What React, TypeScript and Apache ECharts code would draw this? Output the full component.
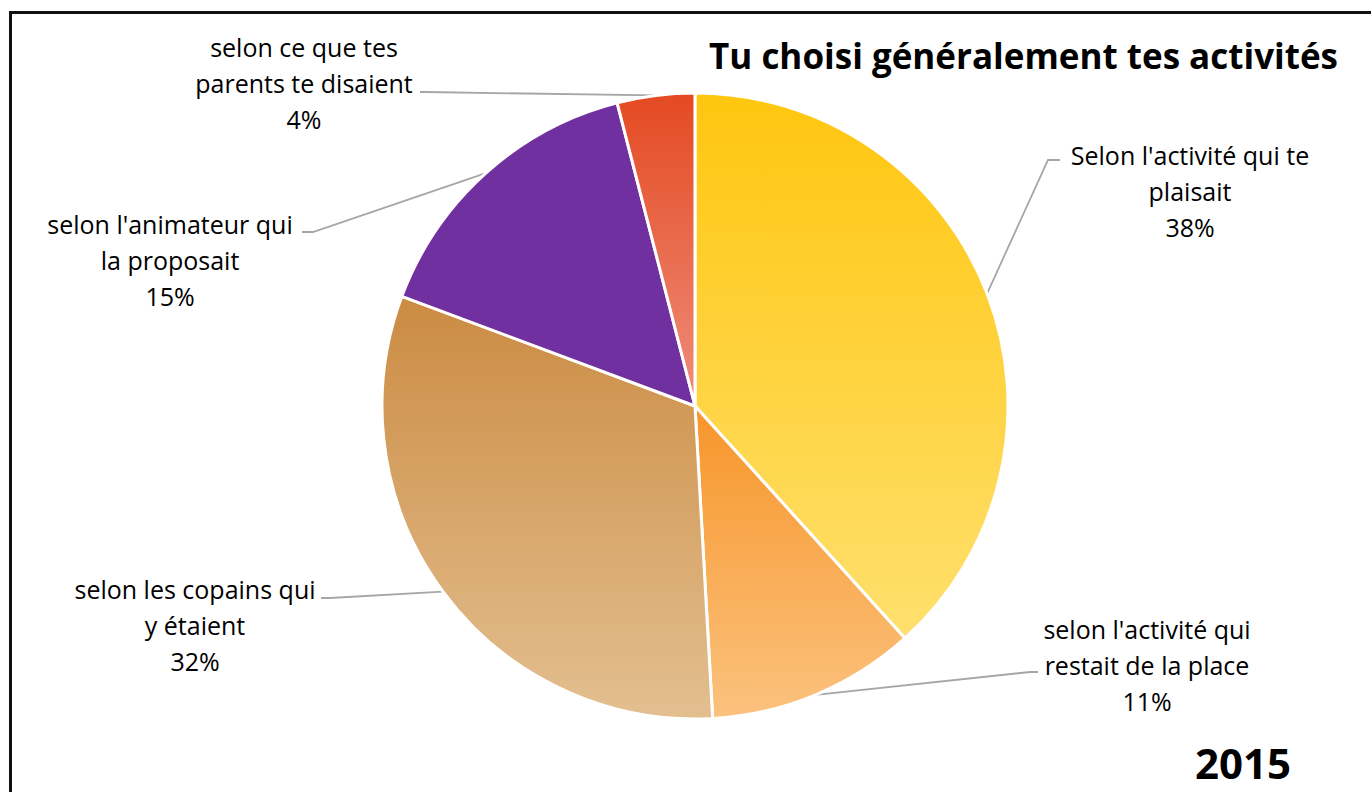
import React, { useEffect, useRef } from "react";
import * as echarts from "echarts";

const categories = [
  "Selon l'activité qui te\nplaisait",
  "selon l'activité qui\nrestait de la place",
  "selon les copains qui\ny étaient",
  "selon l'animateur qui\nla proposait",
  "selon ce que tes\nparents te disaient",
];
// shares (labels show them rounded)
const values = [38.3, 10.8, 31.6, 15.3, 4.0];
const topColors = ["#FFC60F", "#F7952A", "#CB8B42", "#7030A0", "#E44A22"];
const bottomColors = ["#FFE06E", "#FBC27E", "#E3BF90", "#7030A0", "#EF8D7B"];
const titleText = "Tu choisi généralement tes activités";
const yearText = "2015";

// label placement (layout only)
const labelLayouts = [
  { x: 1190, y: 191, elbow: [1048, 160], end: [1060, 160] },
  { x: 1147, y: 665, elbow: [1030, 672], end: [1038, 672] },
  { x: 195, y: 625, elbow: [330, 598], end: [321, 598] },
  { x: 170, y: 260, elbow: [313, 232], end: [302, 232] },
  { x: 304, y: 83, elbow: [425, 92], end: [420, 92] },
];

const FONT = "'Open Sans', sans-serif";

export default function App() {
  const ref = useRef<HTMLDivElement>(null);
  useEffect(() => {
    if (!ref.current) return;
    const chart = echarts.init(ref.current, null, { renderer: "svg" });
    const data = categories.map((name, i) => ({
      name,
      value: values[i],
      itemStyle: {
        color: new echarts.graphic.LinearGradient(0, 0, 0, 1, [
          { offset: 0, color: topColors[i] },
          { offset: 1, color: bottomColors[i] },
        ]),
      },
    }));
    chart.setOption({
      animation: false,
      backgroundColor: "#ffffff",
      graphic: [
        {
          type: "line",
          shape: { x1: 10.5, y1: 12.5, x2: 10.5, y2: 800 },
          style: { stroke: "#111", lineWidth: 3 },
        },
        {
          type: "line",
          shape: { x1: 9, y1: 12.5, x2: 1380, y2: 12.5 },
          style: { stroke: "#111", lineWidth: 3 },
        },
        {
          type: "text",
          x: 1338,
          y: 55,
          style: {
            text: titleText,
            fontFamily: FONT,
            fontWeight: "bold",
            fontSize: 35,
            fill: "#000",
            align: "right",
            verticalAlign: "middle",
          },
        },
        {
          type: "text",
          x: 1243,
          y: 762,
          style: {
            text: yearText,
            fontFamily: FONT,
            fontWeight: "bold",
            fontSize: 42,
            fill: "#000",
            align: "center",
            verticalAlign: "middle",
          },
        },
      ],
      series: [
        {
          type: "pie",
          center: [695, 406],
          radius: [0, 313],
          startAngle: 90,
          clockwise: true,
          avoidLabelOverlap: false,
          itemStyle: { borderColor: "#ffffff", borderWidth: 3 },
          label: {
            show: true,
            position: "outside",
            formatter: (p: any) => `${p.name}\n${Math.round(p.percent)}%`,
            fontFamily: FONT,
            fontSize: 25,
            lineHeight: 36,
            color: "#000",
            align: "center",
          },
          labelLine: {
            show: true,
            lineStyle: { color: "#A6A6A6", width: 1.8 },
          },
          labelLayout: (params: any) => {
            const l = labelLayouts[params.dataIndex];
            const p0 = params.labelLinePoints ? params.labelLinePoints[0] : l.elbow;
            return {
              x: l.x,
              y: l.y,
              align: "center",
              verticalAlign: "middle",
              labelLinePoints: [p0, l.elbow, l.end],
            };
          },
          emphasis: { disabled: true },
          data,
        },
      ],
    });
    return () => chart.dispose();
  }, []);
  return (
    <div
      ref={ref}
      style={{ position: "fixed", left: 0, top: 0, width: 1371, height: 792 }}
    />
  );
}
